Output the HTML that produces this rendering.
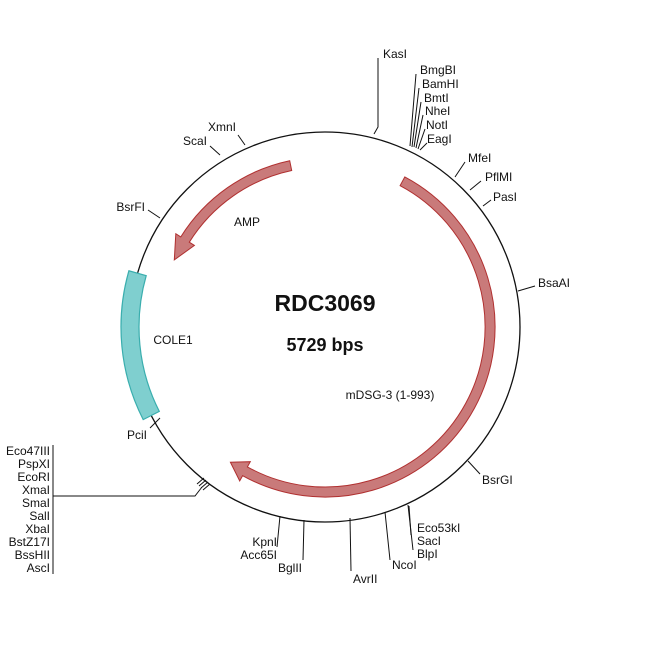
<!DOCTYPE html>
<html><head><style>body{margin:0;background:#fff}svg{display:block}text{font-family:"Liberation Sans",Arial,sans-serif;font-size:12px;fill:#111}</style></head><body>
<svg width="650" height="650" viewBox="0 0 650 650">
<circle cx="325" cy="327" r="195" fill="none" stroke="#111" stroke-width="1.3"/>
<!-- COLE1 -->
<path d="M 128.9 270.8 A 204 204 0 0 0 143.2 419.6 L 159.3 411.4 A 186 186 0 0 1 146.2 275.7 Z" fill="#7fcfcf" stroke="#3aaeae" stroke-width="1.2"/>
<!-- AMP arrow -->
<path d="M 289.7 160.7 A 170 170 0 0 0 180.8 236.9 L 175.8 233.7 L 174.3 259.9 L 194.4 245.4 L 189.3 242.2 A 160 160 0 0 1 291.7 170.5 Z" fill="#c97a7a" stroke="#b03030" stroke-width="1"/>
<!-- mDSG arrow -->
<path d="M 404.8 176.9 A 170 170 0 1 1 242.6 475.7 L 239.7 480.9 L 230.4 462.2 L 250.3 461.7 L 247.4 466.9 A 160 160 0 1 0 400.1 185.7 Z" fill="#c97a7a" stroke="#b03030" stroke-width="1"/>
<g stroke="#111" stroke-width="1" fill="none">
<polyline points="378,58 378,127 374,134"/>
<polyline points="416,74 410,146"/>
<polyline points="419,88 412,147"/>
<polyline points="421,102 414,147"/>
<polyline points="423,115 416,148"/>
<polyline points="425,129 418,149"/>
<polyline points="427,143 420,150"/>
<polyline points="455,177 465,162"/>
<polyline points="470,190 481,181"/>
<polyline points="483,206 491,200"/>
<polyline points="518,291 535,286"/>
<polyline points="468,461 480,474"/>
<polyline points="408,505 413,550"/>
<polyline points="409,506 411,535"/>
<polyline points="385,512 390,560"/>
<polyline points="350,518 351,571"/>
<polyline points="304,520 303,560"/>
<polyline points="280,516 277,547"/>
<polyline points="148,210 160,218"/>
<polyline points="210,146 220,155"/>
<polyline points="238,135 245,145"/>
<polyline points="150,428 160,418"/>
<polyline points="53,445 53,574"/>
<polyline points="53,496 195,496 202,487"/>
<path d="M197,484 L204,478 M199,486 L206,480 M201,488 L208,482 M203,490 L210,484"/>
</g>
<text x="383" y="58">KasI</text>
<text x="420" y="74">BmgBI</text>
<text x="422" y="88">BamHI</text>
<text x="424" y="102">BmtI</text>
<text x="425" y="115">NheI</text>
<text x="426" y="129">NotI</text>
<text x="427" y="143">EagI</text>
<text x="468" y="162">MfeI</text>
<text x="485" y="181">PflMI</text>
<text x="493" y="201">PasI</text>
<text x="538" y="287">BsaAI</text>
<text x="482" y="484">BsrGI</text>
<text x="417" y="532">Eco53kI</text>
<text x="417" y="545">SacI</text>
<text x="417" y="558">BlpI</text>
<text x="392" y="569">NcoI</text>
<text x="353" y="583">AvrII</text>
<text x="302" y="572" text-anchor="end">BglII</text>
<text x="277" y="546" text-anchor="end">KpnI</text>
<text x="277" y="559" text-anchor="end">Acc65I</text>
<text x="145" y="211" text-anchor="end">BsrFI</text>
<text x="207" y="145" text-anchor="end">ScaI</text>
<text x="236" y="131" text-anchor="end">XmnI</text>
<text x="147" y="439" text-anchor="end">PciI</text>
<g text-anchor="end">
<text x="50" y="455">Eco47III</text><text x="50" y="468">PspXI</text><text x="50" y="481">EcoRI</text><text x="50" y="494">XmaI</text><text x="50" y="507">SmaI</text><text x="50" y="520">SalI</text><text x="50" y="533">XbaI</text><text x="50" y="546">BstZ17I</text><text x="50" y="559">BssHII</text><text x="50" y="572">AscI</text>
</g>
<text x="247" y="226" text-anchor="middle">AMP</text>
<text x="173" y="344" text-anchor="middle">COLE1</text>
<text x="390" y="399" text-anchor="middle">mDSG-3 (1-993)</text>
<text x="325" y="311" text-anchor="middle" style="font-size:23px;font-weight:bold">RDC3069</text>
<text x="325" y="351" text-anchor="middle" style="font-size:18px;font-weight:bold">5729 bps</text>
</svg>
</body></html>
